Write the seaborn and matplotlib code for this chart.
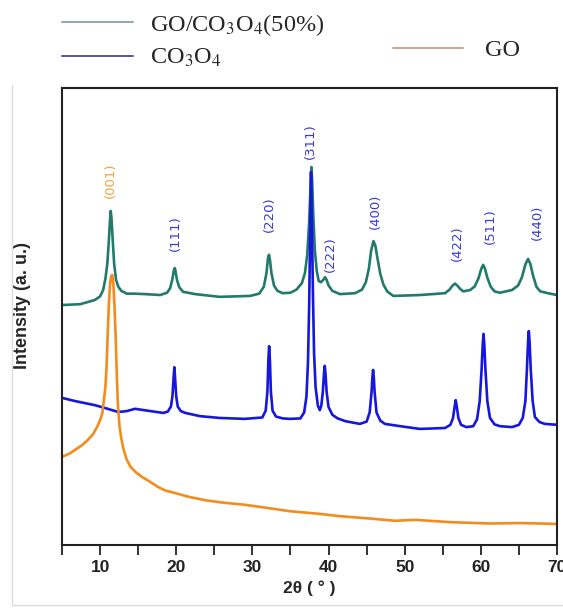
import matplotlib
matplotlib.use("Agg")
import matplotlib.pyplot as plt
import seaborn as sns
from matplotlib.lines import Line2D

# ---------------- data ----------------
# GO/Co3O4 (50%)
comp_x = [5.0, 7.4, 9.3, 10.0, 10.4, 10.7, 10.95, 11.15, 11.3, 11.4, 11.5, 11.65, 11.85, 12.1,
          12.4, 12.8, 13.5, 14.5, 15.9, 17.9, 18.8, 19.2, 19.5, 19.7, 19.8, 19.9, 20.1, 20.4,
          20.9, 22.5, 25.7, 29.7, 30.9, 31.5, 31.85, 32.05, 32.18, 32.3, 32.5, 32.85, 33.3,
          34.0, 35.0, 35.8, 36.5, 36.9, 37.2, 37.45, 37.65, 37.75, 37.85, 38.0, 38.2, 38.45,
          38.7, 39.0, 39.3, 39.55, 39.75, 40.0, 40.5, 41.5, 43.5, 44.4, 44.9, 45.3, 45.6, 45.9,
          46.15, 46.45, 46.8, 47.2, 47.7, 48.5, 52.0, 55.3, 55.9, 56.3, 56.6, 56.95, 57.3, 57.7,
          58.6, 59.2, 59.7, 60.05, 60.3, 60.55, 60.85, 61.3, 61.8, 62.5, 64.1, 64.9, 65.4,
          65.85, 66.2, 66.5, 66.85, 67.3, 67.8, 68.8, 70.0]
comp_y = [52.5, 52.7, 53.6, 54.4, 55.8, 58.3, 61.5, 66.5, 71.0, 73.1, 71.5, 67.0, 61.5, 58.0,
          56.5, 55.6, 55.0, 55.0, 54.9, 54.7, 55.2, 56.2, 58.2, 60.2, 60.6, 60.0, 58.0, 56.4,
          55.4, 54.9, 54.3, 54.5, 55.0, 56.5, 59.5, 62.8, 63.5, 62.5, 59.5, 56.7, 55.6,
          55.1, 55.2, 55.9, 57.3, 59.5, 63.5, 70.5, 79.0, 82.7, 79.5, 72.0, 64.5, 60.0,
          57.8, 57.5, 58.0, 58.6, 58.0, 56.8, 55.6, 54.9, 55.1, 55.9, 57.5, 60.5, 64.5, 66.5,
          65.5, 62.5, 59.3, 57.0, 55.5, 54.5, 54.7, 55.1, 55.9, 56.8, 57.2, 56.7, 56.0, 55.5,
          55.8, 56.6, 58.4, 60.4, 61.3, 60.4, 58.5, 56.5, 55.5, 55.2, 55.8, 56.8, 58.6,
          61.4, 62.6, 61.5, 59.0, 56.5, 55.5, 55.1, 54.7]

# Co3O4
co_x = [5.0, 6.7, 9.3, 10.6, 12.4, 13.5, 14.6, 16.6, 18.3, 18.9, 19.3, 19.5, 19.65, 19.75,
        19.85, 20.0, 20.2, 20.6, 21.2, 23.1, 25.7, 29.0, 31.3, 31.75, 31.97, 32.1, 32.2, 32.3,
        32.43, 32.65, 33.1, 34.0, 34.9, 36.3, 36.8, 37.1, 37.3, 37.45, 37.6, 37.7, 37.8, 37.95,
        38.1, 38.3, 38.6, 38.85, 39.05, 39.25, 39.4, 39.5, 39.6, 39.75, 40.0, 40.5, 41.2, 42.2,
        44.1, 45.0, 45.4, 45.65, 45.75, 45.85, 45.95, 46.05, 46.3, 46.8, 47.4, 49.4, 52.0,
        55.3, 56.0, 56.35, 56.55, 56.7, 56.85, 57.05, 57.4, 58.1, 59.0, 59.5, 59.85, 60.1,
        60.25, 60.35, 60.45, 60.6, 60.85, 61.2, 61.8, 62.5, 64.1, 65.0, 65.5, 65.85, 66.05,
        66.2, 66.3, 66.4, 66.55, 66.8, 67.1, 67.7, 68.4, 70.0]
co_y = [32.2, 31.5, 30.6, 30.0, 29.1, 29.3, 29.8, 29.3, 28.9, 29.2, 30.3, 32.5, 36.5, 38.9,
        36.5, 32.5, 30.3, 29.3, 28.9, 28.2, 27.8, 27.6, 27.9, 29.4, 33.5, 40.5, 43.5, 40.5,
        33.5, 29.4, 28.1, 27.7, 27.6, 27.7, 29.0, 32.5, 40.0, 52.0, 70.0, 81.6, 72.0, 55.0,
        42.0, 34.5, 30.5, 29.5, 30.5, 33.5, 37.5, 39.2, 37.5, 33.5, 30.2, 28.5, 27.7, 27.1,
        26.5, 27.0, 29.0, 33.5, 36.5, 38.3, 36.5, 33.5, 29.0, 27.2, 26.5, 26.0, 25.4,
        25.6, 26.3, 27.8, 30.2, 31.7, 30.2, 27.8, 26.3, 25.8, 26.0, 27.5, 31.5, 38.5,
        44.0, 46.2, 44.0, 38.5, 31.5, 27.8, 26.4, 26.0, 25.8, 26.3, 27.8, 31.5, 38.5,
        44.5, 46.8, 44.5, 38.5, 31.5, 28.0, 26.9, 26.5, 26.3]

# GO
go_x = [5.0, 6.0, 6.7, 7.6, 8.4, 9.1, 9.6, 10.0, 10.3, 10.5, 10.7, 10.85, 11.0, 11.15, 11.3,
        11.45, 11.6, 11.75, 11.9, 12.05, 12.2, 12.35, 12.55, 12.8, 13.1, 13.5, 14.0, 14.7,
        15.5, 16.5, 17.6, 18.6, 19.8, 21.5, 23.8, 26.0, 29.0, 32.0, 34.9, 38.9, 41.5, 45.4,
        48.7, 51.4, 56.0, 61.2, 65.1, 67.8, 70.0]
go_y = [19.3, 20.0, 20.8, 21.8, 23.0, 24.3, 25.8, 27.3, 28.9, 31.7, 34.5, 39.0, 46.0, 52.5, 56.9,
        58.8, 59.1, 57.0, 52.0, 45.5, 37.0, 30.5, 26.0, 23.2, 20.8, 18.7, 17.1, 15.9,
        14.9, 13.9, 12.7, 11.9, 11.4, 10.6, 9.8, 9.3, 8.8, 8.1, 7.4, 6.8, 6.3, 5.8,
        5.3, 5.5, 5.0, 4.7, 4.8, 4.7, 4.6]

# peak (hkl) labels
plane_labels = ["(001)", "(111)", "(220)", "(311)", "(222)", "(400)", "(422)", "(511)", "(440)"]
plane_x = [11.3, 19.9, 32.2, 37.6, 40.2, 46.1, 56.9, 61.3, 67.4]
plane_y = [79.9, 68.3, 72.4, 88.4, 63.7, 73.1, 66.1, 69.8, 70.7]
plane_colors = ["#f2a444", "#3a3ad0", "#3a3ad0", "#3a3ad0", "#3a3ad0", "#3a3ad0", "#3a3ad0",
                "#3a3ad0", "#3a3ad0"]

series_names = ["GO/CO$_3$O$_4$(50%)", "CO$_3$O$_4$", "GO"]
x_ticks = [10, 20, 30, 40, 50, 60, 70]

# ---------------- styling ----------------
sns.set_style("ticks")
plt.rcParams["font.family"] = ["Liberation Sans", "DejaVu Sans"]
plt.rcParams["mathtext.fontset"] = "stix"

c_comp = "#217a6b"
c_co = "#1616dc"
c_go = "#f28c1c"

fig = plt.figure(figsize=(5.63, 6.08), dpi=100)
ax = fig.add_axes([62 / 563, 63 / 608, 495 / 563, 457 / 608])

sns.lineplot(x=comp_x, y=comp_y, ax=ax, color=c_comp, lw=1.9, sort=False, estimator=None)
sns.lineplot(x=co_x, y=co_y, ax=ax, color=c_co, lw=1.9, sort=False, estimator=None)
sns.lineplot(x=go_x, y=go_y, ax=ax, color=c_go, lw=1.9, sort=False, estimator=None)

for lab, px, py, col in zip(plane_labels, plane_x, plane_y, plane_colors):
    ax.text(px, py, lab, rotation=90, ha="center", va="center", color=col,
            fontsize=9.5, family="DejaVu Sans")

ax.set_xlim(5, 70)
ax.set_ylim(0, 100)
ax.set_xticks(x_ticks)
ax.set_xticks(range(5, 71, 5), minor=True)
ax.set_yticks([])
ax.tick_params(axis="x", which="both", direction="out", length=7, width=1.3, colors="#222222",
               labelsize=12.5, pad=4)
for t in ax.get_xticklabels():
    t.set_fontweight("bold")
for s in ax.spines.values():
    s.set_linewidth(1.5)
    s.set_color("#222222")

ax.set_xlabel("2θ ( ° )", fontsize=12.5, fontweight="bold", labelpad=4)
ax.set_ylabel("Intensity (a. u.)", fontsize=13, fontweight="bold")
ax.yaxis.set_label_coords(-0.062, 0.525)

# legends in the top area (serif, as in the reference)
h1 = Line2D([], [], color="#8fa8ae", lw=1.4)
h2 = Line2D([], [], color="#5656aa", lw=1.4)
h3 = Line2D([], [], color="#c9a690", lw=1.4)
prop = {"family": "Liberation Serif", "size": 17.5}
leg1 = fig.legend([h1, h2], series_names[:2], loc="upper left",
                  bbox_to_anchor=(62 / 563, 1 - 12 / 608), frameon=False, prop=prop,
                  handlelength=2.92, handletextpad=0.7, labelspacing=0.38,
                  borderpad=0, borderaxespad=0)
leg2 = fig.legend([h3], series_names[2:], loc="upper left",
                  bbox_to_anchor=(393 / 563, 1 - 39 / 608), frameon=False, prop=prop,
                  handlelength=2.9, handletextpad=0.9, borderpad=0, borderaxespad=0)

# faint frame of the original picture
fig.add_artist(Line2D([12 / 563, 12 / 563], [1 - 85 / 608, 1 - 605 / 608],
                      transform=fig.transFigure, color="#dddddd", lw=1))
fig.add_artist(Line2D([12 / 563, 1], [1 - 605 / 608, 1 - 605 / 608],
                      transform=fig.transFigure, color="#dddddd", lw=1))

fig.savefig("out.png", dpi=100)
